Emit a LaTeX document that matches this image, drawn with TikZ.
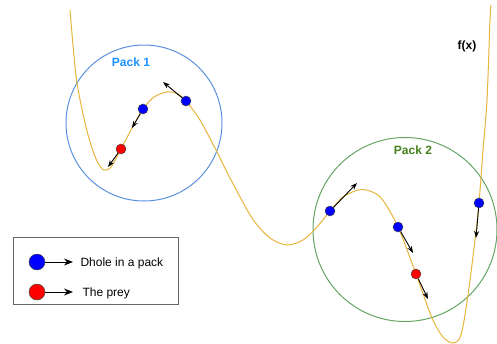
\documentclass[tikz,border=0pt]{standalone}
\usepackage{fontspec}
\setmainfont{Liberation Sans}
\usetikzlibrary{arrows.meta}
\definecolor{curvecol}{RGB}{232,180,60}
\definecolor{packone}{RGB}{90,145,220}
\definecolor{packonetxt}{RGB}{30,144,255}
\definecolor{packtwo}{RGB}{100,165,100}
\definecolor{packtwotxt}{RGB}{70,130,30}
\tikzset{
  dhole/.style={circle,draw=black!70,fill=blue,inner sep=0pt,minimum size=10pt,line width=0.5pt},
  prey/.style={circle,draw=black!70,fill=red,inner sep=0pt,minimum size=10pt,line width=0.5pt},
  ldhole/.style={dhole,minimum size=16pt},
  lprey/.style={prey,minimum size=16pt},
  mv/.style={-{Stealth[length=7pt,width=5pt]},line width=0.9pt,black},
  lmv/.style={-{Stealth[length=9pt,width=7pt]},line width=1pt,black},
  lbl/.style={font=\fontsize{12}{14}\selectfont\bfseries},
  ltxt/.style={font=\fontsize{12}{14}\selectfont,anchor=west}
}
\begin{document}
\begin{tikzpicture}[x=1pt,y=-1pt]
\useasboundingbox (0,0) rectangle (497,343);
% circles
\draw[packone,line width=1pt] (144,123) circle (78);
\draw[packtwo,line width=1pt] (405,229.5) circle (92);
% curve
\draw[curvecol,line width=1pt] plot[smooth,tension=0.5] coordinates {
 (70,10) (73,45) (77,83) (85,123) (92,148) (98,163) (104,170) (111,167)
 (121,149) (132,128) (143,109) (154,97) (167,92) (178,94) (186,101)
 (200,120) (216,150) (230,178) (252,218) (270,238) (287,245) (303,240)
 (317,227) (330,211) (343,197) (358,190) (370,191) (382,199) (398,227)
 (416,274) (432,318) (443,337) (453,343) (461,335) (468,295) (475,240)
 (479,203) (483,150) (487,100) (490,20) (491,5)};
% labels
\node[lbl,text=packonetxt] (p1) at (131,62) {Pack 1};
\node[lbl,text=packtwotxt] (p2) at (413,150) {Pack 2};
\node[lbl] (fx) at (467,46) {f(x)};
% pack 1 agents
\node[prey] (r1) at (121,149) {};
\node[dhole] (b1) at (143,109) {};
\node[dhole] (b2) at (186,101) {};
\coordinate (r1t) at (108,167);
\coordinate (b1t) at (132,128);
\coordinate (b2t) at (163,82);
\draw[mv] (r1) -- (r1t);
\draw[mv] (b1) -- (b1t);
\draw[mv] (b2) -- (b2t);
% pack 2 agents
\node[dhole] (b3) at (330,211) {};
\node[dhole] (b4) at (398,227) {};
\node[prey] (r2) at (416,274) {};
\node[dhole] (b5) at (479,203) {};
\coordinate (b3t) at (357,183);
\coordinate (b4t) at (413,253);
\coordinate (r2t) at (428,299);
\coordinate (b5t) at (476,238);
\draw[mv] (b3) -- (b3t);
\draw[mv] (b4) -- (b4t);
\draw[mv] (r2) -- (r2t);
\draw[mv] (b5) -- (b5t);
% legend
\draw[black!60,line width=0.8pt] (13,237) rectangle (178,304);
\node[ldhole] (ld) at (37,262) {};
\node[lprey] (lr) at (37,292) {};
\coordinate (ldt) at (73,262);
\coordinate (lrt) at (73,292);
\draw[lmv] (ld) -- (ldt);
\draw[lmv] (lr) -- (lrt);
\node[ltxt] (tl1) at (77,263) {Dhole in a pack};
\node[ltxt] (tl2) at (79,293) {The prey};
\end{tikzpicture}
\end{document}
